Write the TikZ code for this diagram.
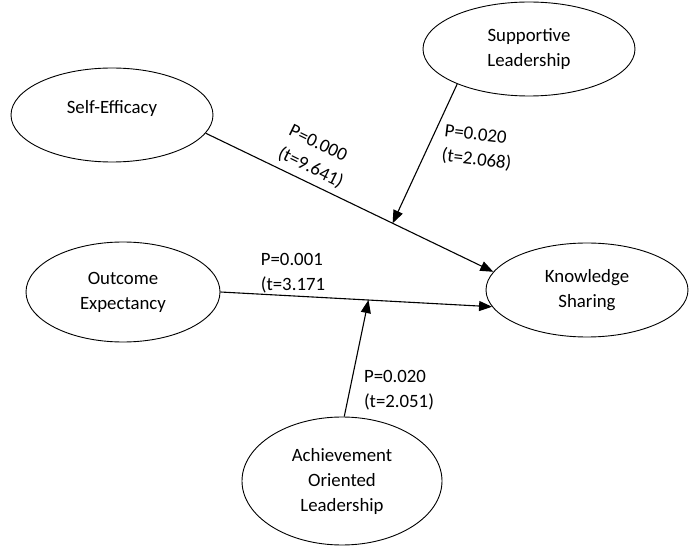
\documentclass[tikz,border=0pt]{standalone}
\usepackage{fontspec}
\setmainfont{Carlito}
\usetikzlibrary{shapes.geometric,arrows.meta}

\begin{document}
\begin{tikzpicture}[x=1pt, y=-1pt,
  construct/.style={draw, ellipse, line width=0.9pt, align=center, inner sep=0pt},
  link/.style={->, line width=1.1pt},
  coef/.style={align=left, inner sep=0pt},
  >={Triangle[length=13pt, width=10pt]},
  font=\fontsize{18.8}{25}\selectfont]

  \useasboundingbox (0,0) rectangle (689,548);

  % --- Define nodes ---
  \node[construct, minimum width=202pt, minimum height=94pt, text depth=16pt] (SE) at (112,115) {Self-Efficacy};
  \node[construct, minimum width=212pt, minimum height=94pt] (SL) at (529,49) {Supportive\\Leadership};
  \node[construct, minimum width=194pt, minimum height=100pt] (OE) at (123,292) {Outcome\\Expectancy};
  \node[construct, minimum width=202pt, minimum height=94pt] (KS) at (587,290) {Knowledge\\Sharing};
  \node[construct, minimum width=200pt, minimum height=128pt] (AOL) at (342,481) {Achievement\\Oriented\\Leadership};

  % --- Direct paths ---
  \draw[link] (SE.-11) -- coordinate[pos=0.65] (m1) (KS.169);
  \draw[link] (OE.east) -- coordinate[pos=0.545] (m2) (KS.190);

  % --- Moderating paths ---
  \draw[link] (SL.206) -- (m1);
  \draw[link] (AOL.88) -- (m2);

  % --- Coefficients ---
  \node[coef, rotate=-26] (c1) at (316,157) {P=0.000\\(t=9.641)};
  \node[coef, rotate=-7] (c2) at (478,148) {P=0.020\\(t=2.068)};
  \node[coef] (c3) at (293,273) {P=0.001\\(t=3.171};
  \node[coef] (c4) at (399,390) {P=0.020\\(t=2.051)};

\end{tikzpicture}
\end{document}
